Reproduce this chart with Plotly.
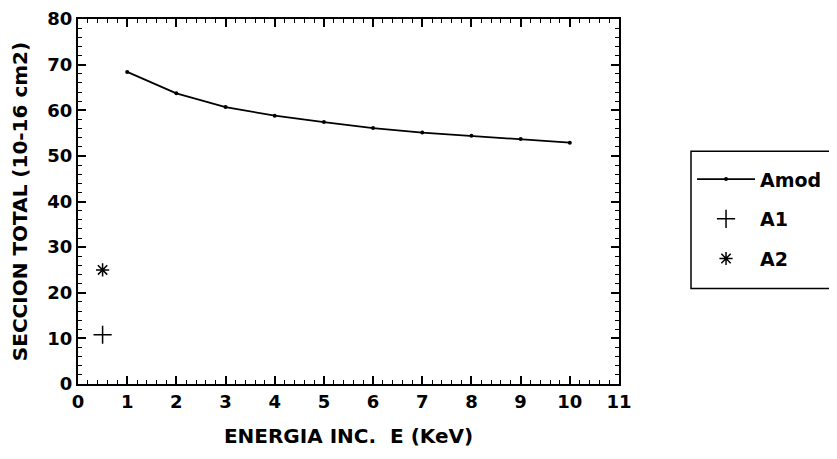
import plotly.graph_objects as go

energy_amod = [1, 2, 3, 4, 5, 6, 7, 8, 9, 10]
sigma_amod = [68.4, 63.7, 60.7, 58.8, 57.4, 56.1, 55.1, 54.4, 53.7, 52.9]
energy_a1 = [0.5]
sigma_a1 = [10.8]
energy_a2 = [0.5]
sigma_a2 = [25.0]

FONT = "DejaVu Sans"

fig = go.Figure()
fig.add_trace(go.Scatter(
    x=energy_amod, y=sigma_amod, mode="lines+markers", name="Amod",
    line=dict(color="black", width=1.8),
    marker=dict(symbol="circle", size=4, color="black"),
    legendgroup="g1",
))
fig.add_trace(go.Scatter(
    x=energy_a1, y=sigma_a1, mode="markers", name="A1",
    marker=dict(symbol="cross-thin-open", size=13, color="black",
                line=dict(color="black", width=1.5)),
    legendgroup="g2",
))
fig.add_trace(go.Scatter(
    x=energy_a2, y=sigma_a2, mode="markers", name="A2",
    marker=dict(symbol="asterisk-open", size=11, color="black",
                line=dict(color="black", width=1.5)),
    legendgroup="g3",
))

axis_common = dict(
    showline=True, linecolor="black", linewidth=2, mirror="ticks",
    ticks="inside", ticklen=8, tickwidth=1.5, tickcolor="black",
    showgrid=False, zeroline=False, automargin=False,
    ticklabeloverflow="allow",
    tickfont=dict(family=FONT, size=18, color="black", weight="bold"),
)

fig.update_xaxes(
    range=[0, 11], tickmode="linear", tick0=0, dtick=1,
    minor=dict(ticks="inside", ticklen=4, tickwidth=1, tickcolor="black", dtick=0.2),
    title=dict(text="ENERGIA INC.  E (KeV)",
               font=dict(family=FONT, size=20, color="black", weight="bold"),
               standoff=18),
    **axis_common,
)
fig.update_yaxes(
    range=[0, 80], tickmode="linear", tick0=0, dtick=10,
    minor=dict(ticks="inside", ticklen=4, tickwidth=1, tickcolor="black", dtick=2),
    title=dict(text="SECCION TOTAL (10-16 cm2)",
               font=dict(family=FONT, size=20, color="black", weight="bold"),
               standoff=18),
    **axis_common,
)

# legend frame (extends past the right edge as in the reference)
fig.add_shape(type="rect", xref="paper", yref="paper",
              x0=1.1331, x1=1.42, y0=0.2616, y1=0.6376,
              line=dict(color="black", width=1.5), fillcolor="rgba(0,0,0,0)")

fig.update_layout(
    width=837, height=459,
    margin=dict(l=70, r=226, t=11, b=83),
    paper_bgcolor="white", plot_bgcolor="white",
    showlegend=True,
    legend=dict(
        x=1.135, y=0.613, xanchor="left", yanchor="top",
        borderwidth=0, bgcolor="rgba(0,0,0,0)",
        font=dict(family=FONT, size=19, color="black", weight="bold"),
        tracegroupgap=12, itemwidth=58,
    ),
)

fig.write_html("out.html")
